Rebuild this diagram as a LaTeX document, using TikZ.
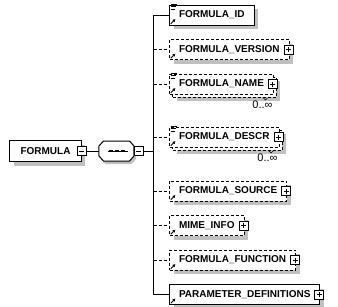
\documentclass[tikz,border=0pt]{standalone}
\usepackage{fontspec}
\setmainfont{Liberation Sans}
\usetikzlibrary{positioning, shadows, arrows.meta, calc}
\definecolor{ShadowGray}{RGB}{192, 192, 192}

\begin{document}
\begin{tikzpicture}[
    x=1pt, y=1pt,
    line width=1pt,
    node distance=13.5pt,
    basebox/.style={rectangle, draw=black, fill=white, font=\fontsize{10}{12}\selectfont\bfseries, minimum height=20pt, inner xsep=9.5pt, inner ysep=0pt},
    elem/.style={basebox, drop shadow={shadow xshift=4pt, shadow yshift=-4pt, fill=ShadowGray, opacity=1}},
    optelem/.style={elem, dash pattern=on 3pt off 2pt},
    multelem/.style={basebox, dash pattern=on 3pt off 2pt,
        drop shadow={shadow xshift=7pt, shadow yshift=-7pt, fill=ShadowGray, opacity=1},
        copy shadow={shadow xshift=3pt, shadow yshift=-3pt, draw=black, fill=white, dash pattern=on 3pt off 2pt}},
    pm/.style={draw=black, fill=white, minimum size=9pt, inner sep=0pt, line width=1pt},
    minus/.style={pm, path picture={\draw ([xshift=2pt]path picture bounding box.west) -- ([xshift=-2pt]path picture bounding box.east);}},
    plus/.style={pm, path picture={\draw ([xshift=2pt]path picture bounding box.west) -- ([xshift=-2pt]path picture bounding box.east);
        \draw ([yshift=-2pt]path picture bounding box.north) -- ([yshift=2pt]path picture bounding box.south);}},
    seqbox/.style={minimum width=34pt, minimum height=19pt, inner sep=0pt},
    mult/.style={font=\fontsize{11}{12}\selectfont, inner sep=0pt},
    conn/.style={line width=1pt},
    optconn/.style={conn, dash pattern=on 3pt off 2pt}
]
    \useasboundingbox (0,0) rectangle (338,-306);

    % root element and sequence compositor
    \node[elem, minimum height=21pt, inner xsep=11pt, anchor=west] (formula) at (9,-151) {FORMULA};
    \node[minus] (fmlminus) at (formula.east) {};
    \node[seqbox, right=12pt of fmlminus] (seq) {};
    \draw[fill=white, drop shadow={shadow xshift=2pt, shadow yshift=-3pt, fill=ShadowGray, opacity=1}]
        ([xshift=4.5pt]seq.north west) -- ([xshift=-4.5pt]seq.north east) -- ([yshift=-5pt]seq.north east)
        -- ([yshift=5pt]seq.south east) -- ([xshift=-4.5pt]seq.south east) -- ([xshift=4.5pt]seq.south west)
        -- ([yshift=5pt]seq.south west) -- ([yshift=-5pt]seq.north west) -- cycle;
    \draw[line width=0.7pt] ([xshift=9pt]seq.west) -- ([xshift=-6pt]seq.east);
    \foreach \dx in {12, 18, 24}
        \fill ([xshift=\dx pt]seq.west) ++(-1.6,-1.3) rectangle ++(3.2,2.6);
    \node[minus, right=0pt of seq] (seqminus) {};
    \coordinate[right=10pt of seqminus] (trunk);

    % children
    \node[elem, anchor=west] (id) at (169,-15) {FORMULA\_ID};
    \node[optelem, below=of id.south west, anchor=north west] (version) {FORMULA\_VERSION};
    \node[multelem, below=of version.south west, anchor=north west] (name) {FORMULA\_NAME};
    \node[multelem, below=32pt of name.south west, anchor=north west] (descr) {FORMULA\_DESCR};
    \node[optelem, below=33pt of descr.south west, anchor=north west] (source) {FORMULA\_SOURCE};
    \node[optelem, below=of source.south west, anchor=north west] (mime) {MIME\_INFO};
    \node[optelem, below=of mime.south west, anchor=north west] (function) {FORMULA\_FUNCTION};
    \node[elem, below=of function.south west, anchor=north west] (param) {PARAMETER\_DEFINITIONS};

    % occurrence labels
    \node[mult, below=5.5pt of name.south east, anchor=north east, xshift=-1pt] (namemult) {0..∞};
    \node[mult, below=5.5pt of descr.south east, anchor=north east, xshift=-1.5pt] (descrmult) {0..∞};
    \foreach \n in {name, descr}
        \draw[line width=0.6pt] ([shift={(-11pt,-3pt)}]\n.south east) -- ++(2.5,-2.5) -- ++(2,2);

    % expand buttons
    \foreach \n in {version, name, descr, source, mime, function, param}
        \node[plus] (\n plus) at ([xshift=-1pt]\n.east) {};

    % icons
    \foreach \n in {id, name, descr} {
        \draw[line width=0.6pt] ([shift={(1.5pt,0pt)}]\n.north west) -- ++(6,0);
        \draw[line width=0.6pt] ([shift={(1.5pt,-2.2pt)}]\n.north west) -- ++(5,0);
        \draw[line width=0.6pt] ([shift={(1.5pt,-4.4pt)}]\n.north west) -- ++(4,0);
    }
    \foreach \n in {id, version, name, descr, source, mime, function, param}
        \draw[line width=0.9pt, -{Triangle[length=2.6pt, width=3pt]}] ([shift={(1.8pt,1.8pt)}]\n.south west) -- ++(4.5,4.5);

    % connectors
    \draw[conn] (fmlminus) -- (seq);
    \draw[conn] (seqminus) -- (trunk);
    \draw[conn] (trunk |- id.west) -- (trunk |- param.west);
    \foreach \n in {id, param}
        \draw[conn] (trunk |- \n.west) -- (\n.west);
    \foreach \n in {version, name, descr, source, mime, function}
        \draw[optconn] (trunk |- \n.west) -- (\n.west);
\end{tikzpicture}
\end{document}
